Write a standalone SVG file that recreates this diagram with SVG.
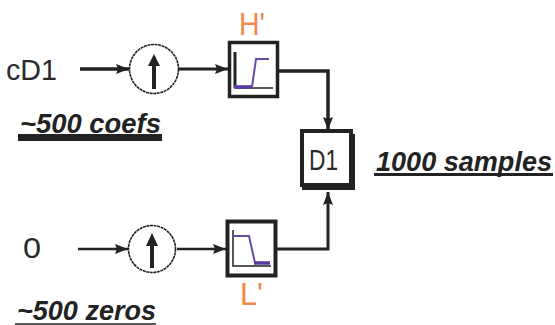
<svg xmlns="http://www.w3.org/2000/svg" width="555" height="325" viewBox="0 0 555 325">
<style>
text{font-family:"Liberation Sans",Arial,sans-serif;fill:#2a2a2a}
.t{font-size:30px}
.o{font-size:31px;fill:#f08a4a}
.u{font-size:27px;font-weight:bold;font-style:italic;fill:#222}
.w{fill:#fff;stroke:#222}
.k{fill:none;stroke:#222;stroke-linejoin:miter}
.p{fill:none;stroke:#6a4aa8}
</style>
<defs>
<marker id="a" markerUnits="userSpaceOnUse" markerWidth="14" markerHeight="12" refX="13" refY="6" orient="auto"><path d="M0 1L13 6L0 11L2 6Z" fill="#222"/></marker>
</defs>
<g id="connectors">
<path class="k" stroke-width="3.500" d="M80 69H129" marker-end="url(#a)"/>
<path class="k" stroke-width="3" d="M178 69H228" marker-end="url(#a)"/>
<path class="k" stroke-width="2.500" d="M78 249H128" marker-end="url(#a)"/>
<path class="k" stroke-width="2.500" d="M177 249H226" marker-end="url(#a)"/>
<path class="k" stroke-width="3.500" d="M279 71H328V130" marker-end="url(#a)"/>
<path class="k" stroke-width="3" d="M277 249H328V192" marker-end="url(#a)"/>
</g>
<g id="cD1"><text class="t" x="6" y="80" textLength="51" lengthAdjust="spacingAndGlyphs">cD1</text></g>
<g id="label-coefs"><text class="u" x="20" y="133" textLength="141" lengthAdjust="spacingAndGlyphs">~500 coefs</text><rect x="18" y="134" width="144" height="7" fill="#222"/></g>
<g id="up1"><circle class="w" cx="154" cy="69" r="24.500" stroke-width="1.600" stroke-dasharray="3 0.6"/><path class="k" stroke-width="4" d="M154 89V62"/><path d="M154 54L148 66H160Z" fill="#222"/></g>
<g id="H">
<text class="o" x="239" y="35" textLength="26" lengthAdjust="spacingAndGlyphs">H'</text>
<rect class="w" x="229.500" y="42.500" width="48" height="54" stroke-width="3.500"/>
<path class="k" stroke-width="3" d="M235 52V88"/>
<path class="k" stroke-width="1.500" d="M235 88H273"/>
<path class="p" stroke-width="2" d="M252 87L256 59H269"/>
<path stroke="#5a3aa0" stroke-width="3.500" d="M234 87H252"/>
</g>
<g id="zero"><text class="t" x="23" y="258" textLength="18" lengthAdjust="spacingAndGlyphs">0</text></g>
<g id="label-zeros"><text class="u" x="17" y="320" textLength="139" lengthAdjust="spacingAndGlyphs">~500 zeros</text><path stroke="#222" stroke-width="1.500" d="M15 324H156"/></g>
<g id="up2"><circle class="w" cx="152" cy="249" r="23.500" stroke-width="1.600" stroke-dasharray="3 0.6"/><path class="k" stroke-width="4" d="M152 268V242"/><path d="M152 233L146 246H158Z" fill="#222"/></g>
<g id="L">
<text class="o" x="240" y="305" textLength="23" lengthAdjust="spacingAndGlyphs">L'</text>
<rect class="w" x="227.500" y="221.500" width="48" height="54" stroke-width="4"/>
<path class="k" stroke-width="1.500" d="M233 230V266H271"/>
<path class="p" stroke-width="2" d="M233 236H249L255 263"/>
<path stroke="#5a3aa0" stroke-width="3.500" d="M254 263H270"/>
</g>
<g id="D1">
<rect x="302" y="134" width="53" height="56" fill="#222"/>
<rect class="w" x="302" y="131" width="49" height="54" stroke-width="4"/>
<text x="309" y="170" font-size="30" textLength="29" lengthAdjust="spacingAndGlyphs">D1</text>
</g>
<g id="label-samples"><text class="u" x="376" y="171" textLength="176" lengthAdjust="spacingAndGlyphs">1000 samples</text><rect x="374" y="173" width="179" height="3" fill="#222"/></g>
</svg>
